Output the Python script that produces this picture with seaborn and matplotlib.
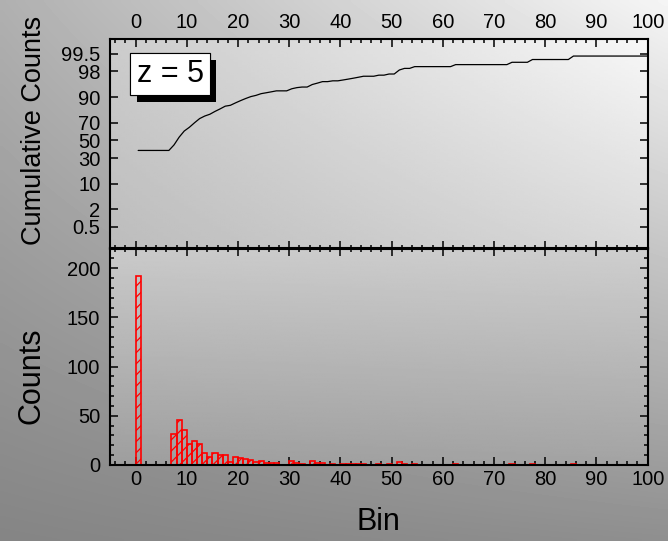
import math

import matplotlib

matplotlib.use("Agg")
import matplotlib.patheffects as pe
import matplotlib.pyplot as plt
import numpy as np
import pandas as pd
import seaborn as sns
from matplotlib.ticker import FixedLocator, MultipleLocator, NullLocator


# counts per bin (bins not listed are empty)
hist_bins = [0, 7, 8, 9, 10, 11, 12, 13, 14, 15, 16, 17, 18, 19, 20, 21, 22,
             23, 24, 25, 26, 27, 30, 31, 32, 34, 35, 36, 38, 40, 41, 42, 43,
             44, 47, 49, 51, 52, 54, 62, 73, 77, 85]
hist_counts = [192, 32, 46, 36, 21, 24, 21, 12, 8, 12, 10, 10, 3, 8, 7, 6, 5,
               3, 4, 2, 2, 2, 4, 2, 1, 4, 2, 2, 1, 1, 1, 1, 1,
               1, 1, 1, 3, 1, 1, 1, 1, 1, 1]
overflow_count = 3  # entries beyond bin 100, keeps the cumulative below 100 %
n_bins = 101

prob_ticks = [0.5, 2, 10, 30, 50, 70, 90, 98, 99.5]
prob_labels = ["0.5", "2", "10", "30", "50", "70", "90", "98", "99.5"]
count_ticks = [0, 50, 100, 150, 200]
bin_ticks = list(range(0, 101, 10))
annotation = "z = 5"

FONT = ["Liberation Sans", "DejaVu Sans"]
W, H = 668, 541

# normal probability axis: percent <-> z
_z = np.linspace(-6, 6, 4001)
_p = 50.0 * (1.0 + np.array([math.erf(v / math.sqrt(2)) for v in _z]))


def prob_forward(p):
    return np.interp(p, _p, _z)


def prob_inverse(z):
    return np.interp(z, _z, _p)


def gradient(tl, tr, bl, br, n=128):
    u = np.linspace(0, 1, n)
    v = np.linspace(0, 1, n)[:, None]
    top = tl + (tr - tl) * u
    bottom = bl + (br - bl) * u
    return top + (bottom - top) * v


def paint(fig, rect, grid, z=-5):
    bg = fig.add_axes(rect, zorder=z)
    bg.imshow(grid, extent=[0, 1, 0, 1], aspect="auto", cmap="gray",
              vmin=0, vmax=1, interpolation="bilinear")
    bg.set_axis_off()
    return bg


def style_axis(ax):
    ax.set_facecolor("none")
    for spine in ax.spines.values():
        spine.set_linewidth(1.5)
        spine.set_color("black")
    ax.tick_params(which="both", direction="in", top=True, right=True,
                   width=1.1, color="black", labelsize=14.5, labelcolor="black")
    ax.tick_params(which="major", length=5.8)
    ax.tick_params(which="minor", length=3.2)
    ax.xaxis.set_major_locator(FixedLocator(bin_ticks))
    ax.xaxis.set_minor_locator(MultipleLocator(2))
    ax.set_xlim(-5, 100)


sns.set_theme(style="ticks")
plt.rcParams["font.family"] = FONT

counts = np.zeros(n_bins)
counts[hist_bins] = hist_counts
bin_left = np.arange(n_bins)
total = counts.sum() + overflow_count
hist = pd.DataFrame({
    "bin": bin_left + 0.5,
    "count": counts,
    "cum_pct": np.cumsum(counts) / total * 100.0,
})

fig = plt.figure(figsize=(W / 100, H / 100), dpi=100)
fig.patch.set_facecolor("#a0a0a0")

left, width = 110 / W, 537.7 / W
top_rect = [left, (H - 248.5) / H, width, 209.2 / H]
bot_rect = [left, (H - 465) / H, width, 216.5 / H]

paint(fig, [0, 0, 1, 1], gradient(0.69, 0.96, 0.52, 0.56), z=-10)
paint(fig, top_rect, gradient(0.80, 0.97, 0.74, 0.85))
paint(fig, bot_rect, gradient(0.79, 0.81, 0.62, 0.64))

ax_top = fig.add_axes(top_rect)
ax_bot = fig.add_axes(bot_rect)

# upper panel: cumulative percentage on a probability axis
sns.lineplot(data=hist, x="bin", y="cum_pct", color="black", linewidth=0.9, ax=ax_top)
ax_top.set_yscale("function", functions=(prob_forward, prob_inverse))
ax_top.set_ylim(0.065, 99.87)
ax_top.yaxis.set_major_locator(FixedLocator(prob_ticks))
ax_top.yaxis.set_minor_locator(NullLocator())
ax_top.set_yticklabels(prob_labels)
style_axis(ax_top)
ax_top.tick_params(axis="x", labeltop=True, labelbottom=False, pad=5)
ax_top.tick_params(axis="y", pad=7)
ax_top.set_xlabel("")
ax_top.set_ylabel("Cumulative Counts", fontsize=19.5, color="black")
ax_top.yaxis.set_label_coords(-0.118, 0.565)

label = ax_top.text(0.1116, 0.834, annotation, transform=ax_top.transAxes,
                    ha="center", va="center", fontsize=22, color="black",
                    bbox=dict(boxstyle="square,pad=0.2", facecolor="white",
                              edgecolor="black", linewidth=0.8))
label.get_bbox_patch().set_path_effects([
    pe.withSimplePatchShadow(offset=(4.5, -5), shadow_rgbFace="black", alpha=1.0),
    pe.Normal(),
])

# lower panel: histogram of counts per bin
plt.rcParams["hatch.linewidth"] = 0.9
sns.histplot(data=hist, x="bin", weights="count", binwidth=1, binrange=(0, n_bins),
             fill=False, color="red", linewidth=1.2, ax=ax_bot)
for bar in ax_bot.patches:
    bar.set_hatch("///")
    bar.set_edgecolor("red")
ax_bot.set_ylim(0, 220)
ax_bot.yaxis.set_major_locator(FixedLocator(count_ticks))
ax_bot.yaxis.set_minor_locator(MultipleLocator(10))
style_axis(ax_bot)
ax_bot.tick_params(axis="x", pad=3.5)
ax_bot.tick_params(axis="y", pad=7)
ax_bot.set_xlabel("Bin", fontsize=22, color="black")
ax_bot.xaxis.set_label_coords(0.5, -0.194)
ax_bot.set_ylabel("Counts", fontsize=22, color="black")
ax_bot.yaxis.set_label_coords(-0.118, 0.41)

fig.savefig("out.png", dpi=100)
